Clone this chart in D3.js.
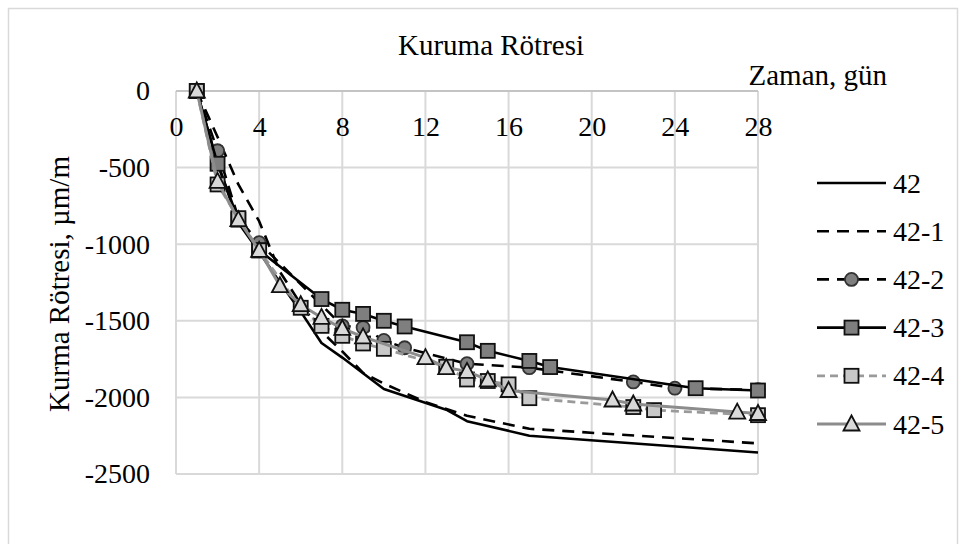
<!DOCTYPE html>
<html>
<head>
<meta charset="utf-8">
<script src="https://cdn.jsdelivr.net/npm/d3@7"></script>
<style>
  html, body { margin: 0; padding: 0; background: #fff; }
  svg text { font-family: "Liberation Serif", "Times New Roman", serif; fill: #000; }
</style>
</head>
<body>
<svg id="chart" width="964" height="544"></svg>
<script>
// Drying shrinkage (µm/m) against age (days) for six mixes
const seriesNames = ["42", "42-1", "42-2", "42-3", "42-4", "42-5"];

const days42 = [1, 2, 3, 4, 5, 6, 7, 8, 10, 13, 14, 17, 28];
const vals42 = [0, -470, -860, -1050, -1250, -1440, -1645, -1740, -1945, -2080, -2155, -2250, -2360];

const days42_1 = [1, 2, 3, 4, 5, 6, 7, 8, 9, 10, 12, 14, 17, 28];
const vals42_1 = [0, -300, -610, -850, -1180, -1390, -1570, -1700, -1840, -1910, -2030, -2120, -2205, -2300];

const days42_2 = [1, 2, 3, 4, 8, 9, 10, 11, 14, 17, 22, 24, 28];
const vals42_2 = [0, -390, -830, -990, -1533, -1544, -1628, -1676, -1780, -1806, -1899, -1940, -1950];

const days42_3 = [1, 2, 3, 4, 7, 8, 9, 10, 11, 14, 15, 17, 18, 25, 28];
const vals42_3 = [0, -475, -840, -1040, -1358, -1428, -1455, -1500, -1537, -1640, -1696, -1762, -1802, -1940, -1955];

const days42_4 = [1, 2, 3, 4, 6, 7, 8, 9, 10, 13, 14, 15, 16, 17, 22, 23, 28];
const vals42_4 = [0, -610, -830, -1040, -1415, -1533, -1598, -1648, -1683, -1800, -1883, -1893, -1915, -2005, -2063, -2083, -2116];

const days42_5 = [1, 2, 3, 4, 5, 6, 7, 8, 9, 12, 13, 14, 15, 16, 21, 22, 27, 28];
const vals42_5 = [0, -590, -840, -1040, -1271, -1395, -1478, -1550, -1605, -1740, -1805, -1830, -1886, -1955, -2017, -2043, -2096, -2105];

const xTicks = [0, 4, 8, 12, 16, 20, 24, 28];
const yTicks = [0, -500, -1000, -1500, -2000, -2500];

const chartTitle = "Kuruma Rötresi";
const xTitle = "Zaman, gün";
const yTitle = "Kurma Rötresi, µm/m";

// Appearance of each series: line stroke, dash, marker
const styles = [
  { color: "#000", width: 2.6, dash: null, marker: null },
  { color: "#000", width: 2.6, dash: "12,8", marker: null },
  { color: "#000", width: 2.6, dash: "12,8", marker: "circle", fill: "#7f7f7f", mstroke: "#333" },
  { color: "#000", width: 2.6, dash: null, marker: "square", fill: "#7f7f7f", mstroke: "#111" },
  { color: "#9a9a9a", width: 2.8, dash: "8,5", marker: "square", fill: "#c8c8c8", mstroke: "#111" },
  { color: "#8c8c8c", width: 3, dash: null, marker: "triangle", fill: "#d9d9d9", mstroke: "#111" }
];

const allDays = [days42, days42_1, days42_2, days42_3, days42_4, days42_5];
const allVals = [vals42, vals42_1, vals42_2, vals42_3, vals42_4, vals42_5];
const series = seriesNames.map((name, i) => ({
  name,
  style: styles[i],
  points: allDays[i].map((d, j) => ({ x: d, y: allVals[i][j] }))
}));

const svg = d3.select("#chart");

// Outer chart border
svg.append("rect")
  .attr("x", 8.5).attr("y", 8.5).attr("width", 949).attr("height", 545)
  .attr("fill", "none").attr("stroke", "#d9d9d9").attr("stroke-width", 1.5);

const x = d3.scaleLinear().domain([0, 28]).range([176, 758]);
const y = d3.scaleLinear().domain([0, -2500]).range([91, 474]);

// Gridlines
const grid = svg.append("g");
grid.selectAll("line.v").data(xTicks).join("line")
  .attr("x1", d => x(d)).attr("x2", d => x(d))
  .attr("y1", y(0)).attr("y2", y(-2500))
  .attr("stroke", "#d9d9d9").attr("stroke-width", 2);
grid.selectAll("line.h").data(yTicks).join("line")
  .attr("x1", x(0)).attr("x2", x(28))
  .attr("y1", d => y(d)).attr("y2", d => y(d))
  .attr("stroke", d => d === 0 ? "#c4c4c4" : "#d9d9d9").attr("stroke-width", 2);

const fmt = d => String(d);

// Axes (labels only, lines drawn as grid)
const xAxis = svg.append("g").attr("transform", `translate(0,${y(0) + 36})`)
  .call(d3.axisBottom(x).tickValues(xTicks).tickFormat(fmt).tickSize(0).tickPadding(0));
xAxis.select(".domain").remove();
xAxis.selectAll("text").attr("font-size", 28).attr("dy", "0.32em")
  .style("font-family", "Liberation Serif, serif");

const yAxis = svg.append("g").attr("transform", `translate(${x(0) - 26},0)`)
  .call(d3.axisLeft(y).tickValues(yTicks).tickFormat(fmt).tickSize(0).tickPadding(0));
yAxis.select(".domain").remove();
yAxis.selectAll("text").attr("font-size", 28).attr("dy", "0.32em")
  .style("font-family", "Liberation Serif, serif");

// Titles
svg.append("text").attr("x", 491).attr("y", 55).attr("text-anchor", "middle")
  .attr("font-size", 29).text(chartTitle);
svg.append("text").attr("x", 887).attr("y", 85).attr("text-anchor", "end")
  .attr("font-size", 29).text(xTitle);
svg.append("text").attr("transform", "translate(69,284) rotate(-90)")
  .attr("text-anchor", "middle").attr("font-size", 29).text(yTitle);

// Marker drawing helper
function drawMarker(g, type, cx, cy, st) {
  if (type === "circle") {
    g.append("circle").attr("cx", cx).attr("cy", cy).attr("r", 6.5)
      .attr("fill", st.fill).attr("stroke", st.mstroke).attr("stroke-width", 1.8);
  } else if (type === "square") {
    g.append("rect").attr("x", cx - 7).attr("y", cy - 7).attr("width", 14).attr("height", 14)
      .attr("fill", st.fill).attr("stroke", st.mstroke).attr("stroke-width", 1.8);
  } else if (type === "triangle") {
    g.append("path")
      .attr("d", `M${cx},${cy - 8.5}L${cx + 8},${cy + 6.5}L${cx - 8},${cy + 6.5}Z`)
      .attr("fill", st.fill).attr("stroke", st.mstroke).attr("stroke-width", 1.8);
  }
}

const line = d3.line().x(d => x(d.x)).y(d => y(d.y));
const plot = svg.append("g");
series.forEach(s => {
  const g = plot.append("g");
  g.append("path").datum(s.points).attr("d", line)
    .attr("fill", "none").attr("stroke", s.style.color)
    .attr("stroke-width", s.style.width)
    .attr("stroke-dasharray", s.style.dash)
    .attr("stroke-linejoin", "round");
  if (s.style.marker) {
    s.points.forEach(p => drawMarker(g, s.style.marker, x(p.x), y(p.y), s.style));
  }
});

// Legend
const legend = svg.append("g");
series.forEach((s, i) => {
  const ly = 183 + i * 48.2;
  const g = legend.append("g");
  g.append("line").attr("x1", 817).attr("x2", 886).attr("y1", ly).attr("y2", ly)
    .attr("stroke", s.style.color).attr("stroke-width", s.style.width)
    .attr("stroke-dasharray", s.style.dash);
  if (s.style.marker) drawMarker(g, s.style.marker, 851.5, ly, s.style);
  g.append("text").attr("x", 893).attr("y", ly).attr("dy", "0.34em")
    .attr("font-size", 28).text(s.name);
});
</script>
</body>
</html>
